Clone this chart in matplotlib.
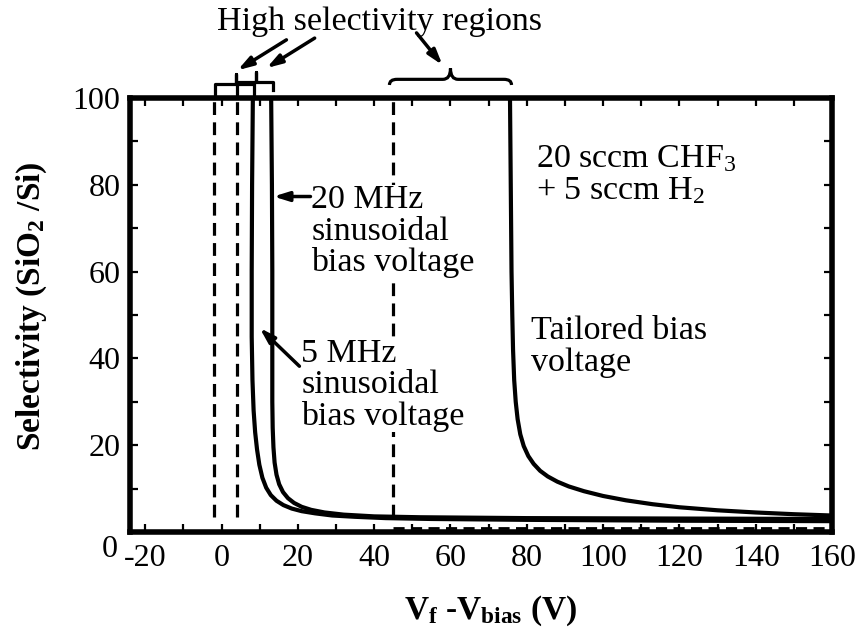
import numpy as np
import matplotlib
matplotlib.use('Agg')
import matplotlib.pyplot as plt
import matplotlib.transforms as mtransforms
from matplotlib.path import Path
from matplotlib.patches import PathPatch
from matplotlib.ticker import MultipleLocator

plt.rcParams['font.family'] = ['Liberation Serif', 'DejaVu Serif']
plt.rcParams['mathtext.fontset'] = 'custom'
plt.rcParams['mathtext.rm'] = 'Liberation Serif'
plt.rcParams['mathtext.it'] = 'Liberation Serif:italic'
plt.rcParams['mathtext.bf'] = 'Liberation Serif:bold'
plt.rcParams['axes.unicode_minus'] = False

# 5 MHz sinusoidal bias
v_5 = [8.2, 8.0, 7.9, 7.9, 8.1, 8.4, 8.8, 9.3, 9.9, 10.7, 11.7, 12.9, 14.4, 16.2, 18.4, 21, 24.5,
       29, 35, 43, 55, 80, 120, 160]
s_5 = [100, 80, 60, 45, 35, 28, 23, 19, 15.5, 12.5, 10.2, 8.5, 7.2, 6.2, 5.4, 4.8, 4.3,
       3.8, 3.5, 3.2, 3.0, 2.8, 2.6, 2.5]
# 20 MHz sinusoidal bias
v_20 = [13.0, 13.2, 13.3, 13.3, 13.3, 13.4, 13.6, 13.9, 14.4, 15.1, 16.1, 17.4, 19, 21, 23.5,
        27, 32, 40, 52, 80, 120, 160]
s_20 = [100, 80, 60, 40, 30, 24, 19.5, 16, 13.2, 11, 9.2, 7.8, 6.7, 5.8, 5.1,
        4.5, 4.0, 3.6, 3.4, 3.2, 3.1, 3.0]
# tailored bias
v_t = [75.6, 75.8, 76.0, 76.2, 76.4, 76.7, 77.1, 77.6, 78.3, 79.2, 80.4, 81.8, 83.5, 85.5, 88,
       91, 95, 100, 106, 113, 120, 130, 140, 150, 160]
s_t = [100, 80, 60, 50, 42, 35, 30, 26, 22.5, 19.8, 17.5, 15.7, 14.1, 12.8, 11.6,
       10.5, 9.4, 8.3, 7.3, 6.4, 5.7, 5.0, 4.5, 4.1, 3.8]

dash_x = [-2, 4, 45]
dash_h = [45, 160, 0.9]   # x start, x end, level of bottom dashed line

fig = plt.figure(figsize=(8.58, 6.34), dpi=100)
ax = fig.add_axes([130/858, 102/634, 702/858, 434/634])

lw = 3.0
ax.plot(v_5, s_5, color='k', lw=lw, solid_joinstyle='round')
ax.plot(v_20, s_20, color='k', lw=lw, solid_joinstyle='round')
ax.plot(v_t, s_t, color='k', lw=lw, solid_joinstyle='round')

dstyle = (0, (4, 2.3))
for x in dash_x:
    ax.plot([x, x], [3.5, 100], color='k', lw=2.3, linestyle=dstyle, zorder=1)
ax.plot(dash_h[:2], [dash_h[2], dash_h[2]], color='k', lw=2.0, linestyle=dstyle)

ax.set_xlim(-24, 160)
ax.set_ylim(0, 100)
ax.xaxis.set_major_locator(MultipleLocator(20))
ax.xaxis.set_minor_locator(MultipleLocator(10))
ax.yaxis.set_major_locator(MultipleLocator(20))
ax.yaxis.set_minor_locator(MultipleLocator(10))
ax.tick_params(which='both', direction='in', top=True, right=True, width=1.6, length=6)
ax.tick_params(axis='x', labelsize=23, pad=9)
ax.tick_params(axis='y', labelsize=23, pad=7)
for s in ax.spines.values():
    s.set_linewidth(4)

# the "0" on the y axis sits a bit lower in the original
fig.canvas.draw()
for lab in ax.get_yticklabels():
    if lab.get_text() == '0':
        lab.set_transform(lab.get_transform() + mtransforms.ScaledTranslation(-2/72, -10/72, fig.dpi_scale_trans))

ax.set_ylabel('Selectivity (SiO$_\\mathbf{2}$ /Si)', fontsize=24, fontweight='bold')
ax.yaxis.set_label_coords(-0.14, 0.52)
ax.yaxis.label.set_va('center')
ax.set_xlabel('V$_\\mathbf{f}$ -V$_\\mathbf{bias}$ (V)', fontsize=24, fontweight='bold')
ax.xaxis.set_label_coords(0.514, -0.182)
ax.xaxis.label.set_va('center')

fs = 24.5
box = dict(facecolor='white', edgecolor='none', pad=0)
ax.text(23.5, 69.2, '20 MHz\nsinusoidal\nbias voltage', fontsize=fs, ha='left', va='center',
        linespacing=1.03, bbox=box, zorder=3)
ax.text(20.9, 33.9, '5 MHz\nsinusoidal\nbias voltage', fontsize=fs, ha='left', va='center',
        linespacing=1.03, bbox=box, zorder=3)
ax.text(82.5, 82.3, '20 sccm CHF$_3$\n+ 5 sccm H$_2$', fontsize=fs, ha='left', va='center', linespacing=1.08)
ax.text(81.2, 42.7, 'Tailored bias\nvoltage', fontsize=fs, ha='left', va='center', linespacing=1.08)
ax.text(41.4, 117.6, 'High selectivity regions', fontsize=fs, ha='center', va='center', clip_on=False)

arr = dict(arrowstyle='-|>,head_length=0.9,head_width=0.28', color='k', lw=2.5, shrinkA=0, shrinkB=0)
ax.annotate('', xy=(13.6, 77.3), xytext=(23.3, 77.3), arrowprops=arr, zorder=4)
ax.annotate('', xy=(10.0, 47.0), xytext=(20.4, 38.2), arrowprops=arr, zorder=4)
ax.annotate('', xy=(4.2, 106.4), xytext=(17, 113.4), arrowprops=arr, annotation_clip=False)
ax.annotate('', xy=(11.8, 106.9), xytext=(24.4, 113.8), arrowprops=arr, annotation_clip=False)
ax.annotate('', xy=(57.9, 107.6), xytext=(51.1, 115), arrowprops=arr, annotation_clip=False)

# square brackets over the two low-voltage regions
ax.plot([-1.8, -1.8, 3.9, 3.9, 3.9, 8.6, 8.6], [100.3, 103.3, 103.3, 105.6, 103.3, 103.3, 100.3],
        color='k', lw=2.3, clip_on=False)
ax.plot([4.0, 4.0, 8.9, 8.9, 8.9, 13.6, 13.6], [100.3, 103.6, 103.6, 105.9, 103.6, 103.6, 101.9],
        color='k', lw=2.3, clip_on=False)

# curly brace over the tailored-bias region
x0, x1, xm = 44, 76, 60
y0, y1, y2, d = 103.0, 104.3, 106.8, 2.0
verts = [(x0, y0), (x0, y1), (x0 + d, y1), (xm - d, y1), (xm, y1), (xm, y2),
         (xm, y1), (xm + d, y1), (x1 - d, y1), (x1, y1), (x1, y0)]
codes = [Path.MOVETO, Path.CURVE3, Path.CURVE3, Path.LINETO, Path.CURVE3, Path.CURVE3,
         Path.CURVE3, Path.CURVE3, Path.LINETO, Path.CURVE3, Path.CURVE3]
ax.add_patch(PathPatch(Path(verts, codes), fill=False, lw=2.3, color='k', clip_on=False))

fig.savefig('out.png', dpi=100)
